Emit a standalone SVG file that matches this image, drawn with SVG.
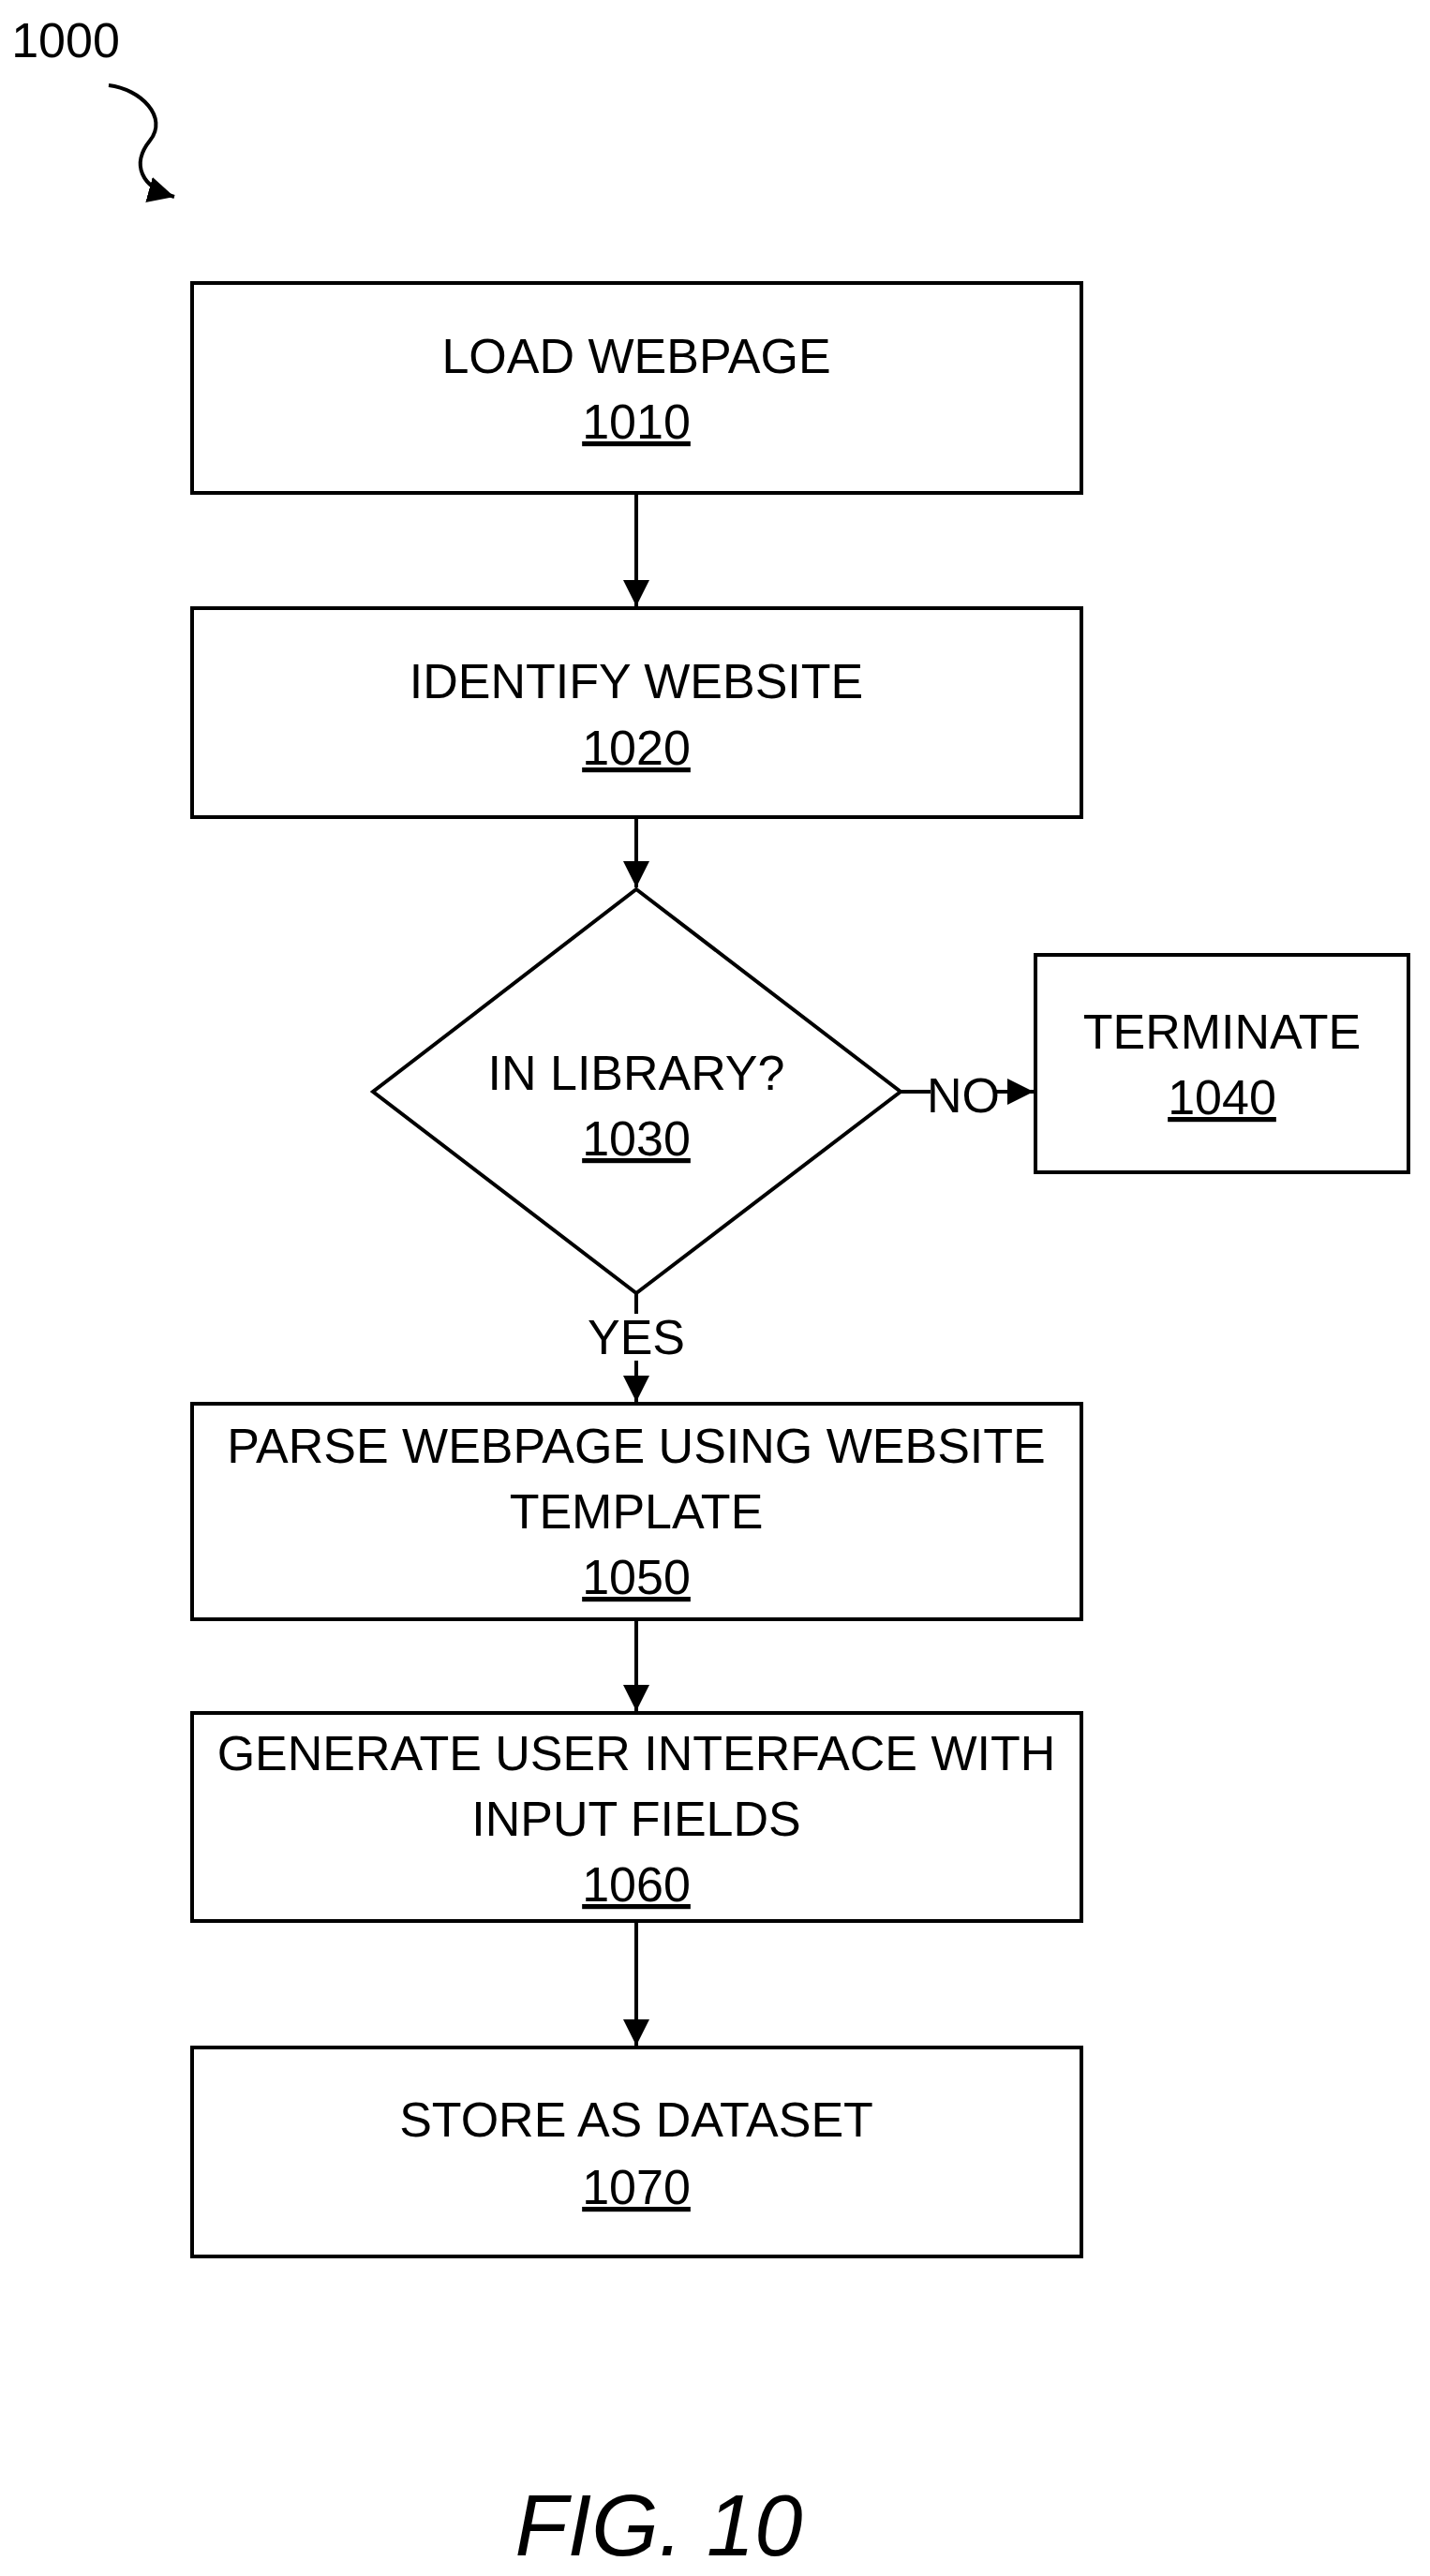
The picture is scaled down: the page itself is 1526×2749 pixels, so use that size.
<svg xmlns="http://www.w3.org/2000/svg" width="1526" height="2749" viewBox="0 0 1526 2749">
<defs>
<style>
.b{fill:#fff;stroke:#000;stroke-width:4}
.t{font-family:"Liberation Sans Narrow","Liberation Sans",Arial,sans-serif;font-size:52px;text-anchor:middle;fill:#000}
.u{text-decoration:underline}
.c{stroke:#000;stroke-width:4;fill:none}
</style>
<marker id="a" viewBox="0 0 10 10" refX="10" refY="5" markerWidth="7" markerHeight="7" markerUnits="strokeWidth" orient="auto"><path d="M0,0L10,5L0,10z" fill="#000"/></marker>
</defs>
<rect width="1526" height="2749" fill="#fff"/>
<text class="t" x="70" y="61">1000</text>
<path class="c" d="M116,91 C150,95 180,125 160,150 C140,175 150,200 186,210" marker-end="url(#a)"/>
<g id="n1010"><rect class="b" x="205" y="302" width="949" height="224"/><text class="t" x="679" y="398">LOAD WEBPAGE</text><text class="t u" x="679" y="468">1010</text></g>
<g id="n1020"><rect class="b" x="205" y="649" width="949" height="223"/><text class="t" x="679" y="745">IDENTIFY WEBSITE</text><text class="t u" x="679" y="816">1020</text></g>
<g id="n1030"><polygon class="b" points="679,949 961,1165 679,1380 398,1165"/><text class="t" x="679" y="1163">IN LIBRARY?</text><text class="t u" x="679" y="1233">1030</text></g>
<g id="n1040"><rect class="b" x="1105" y="1019" width="398" height="232"/><text class="t" x="1304" y="1119">TERMINATE</text><text class="t u" x="1304" y="1189">1040</text></g>
<g id="n1050"><rect class="b" x="205" y="1498" width="949" height="230"/><text class="t" x="679" y="1561">PARSE WEBPAGE USING WEBSITE</text><text class="t" x="679" y="1631">TEMPLATE</text><text class="t u" x="679" y="1701">1050</text></g>
<g id="n1060"><rect class="b" x="205" y="1828" width="949" height="222"/><text class="t" x="679" y="1889">GENERATE USER INTERFACE WITH</text><text class="t" x="679" y="1959">INPUT FIELDS</text><text class="t u" x="679" y="2029">1060</text></g>
<g id="n1070"><rect class="b" x="205" y="2185" width="949" height="223"/><text class="t" x="679" y="2280">STORE AS DATASET</text><text class="t u" x="679" y="2352">1070</text></g>
<g id="connectors">
<line class="c" x1="679" y1="526" x2="679" y2="647" marker-end="url(#a)"/>
<line class="c" x1="679" y1="872" x2="679" y2="947" marker-end="url(#a)"/>
<line class="c" x1="961" y1="1165" x2="993" y2="1165"/>
<line class="c" x1="1062" y1="1165" x2="1103" y2="1165" marker-end="url(#a)"/>
<text class="t" x="1028" y="1187">NO</text>
<line class="c" x1="679" y1="1380" x2="679" y2="1402"/>
<line class="c" x1="679" y1="1452" x2="679" y2="1496" marker-end="url(#a)"/>
<text class="t" x="679" y="1445">YES</text>
<line class="c" x1="679" y1="1728" x2="679" y2="1826" marker-end="url(#a)"/>
<line class="c" x1="679" y1="2050" x2="679" y2="2183" marker-end="url(#a)"/>
</g>
<text x="703" y="2727" style="font-family:'Liberation Sans',Arial,sans-serif;font-size:92px;font-style:italic;text-anchor:middle">FIG. 10</text>
</svg>
